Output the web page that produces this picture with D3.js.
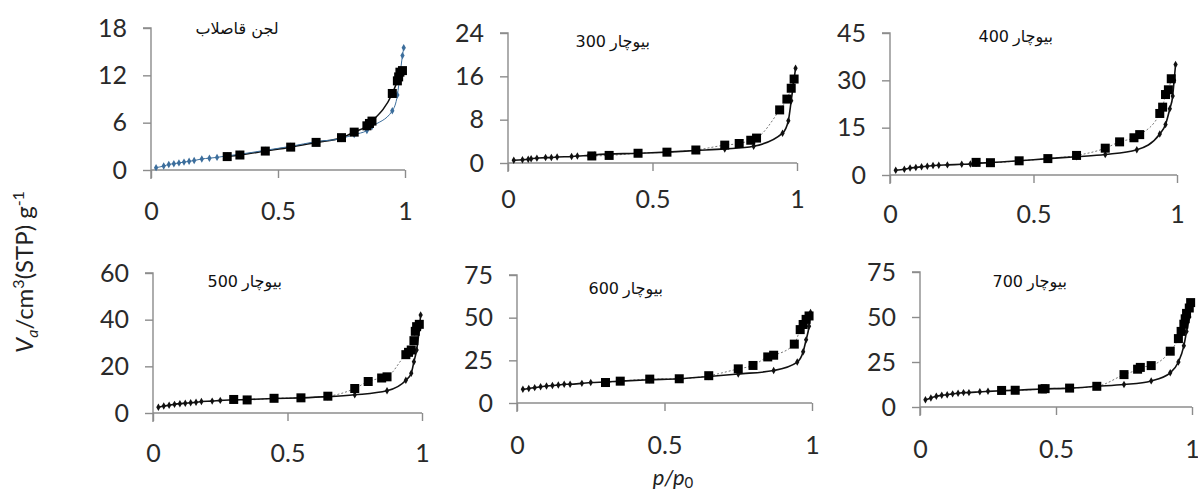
<!DOCTYPE html>
<html><head><meta charset="utf-8">
<script src="https://cdn.jsdelivr.net/npm/d3@7"></script>
<style>
body{margin:0;background:#fff;}
svg{font-family:"Lato","Open Sans",sans-serif;}
</style></head>
<body><svg id="c" width="1198" height="494"></svg>
<script>
// ---- data ----
const panelTitles = ["لجن قاصلاب","300 بیوچار","400 بیوچار","500 بیوچار","600 بیوچار","700 بیوچار"];
const yMax = [18,24,45,60,75,75];
const yTicks = [[0,6,12,18],[0,8,16,24],[0,15,30,45],[0,20,40,60],[0,25,50,75],[0,25,50,75]];
const xTicks = [0,0.5,1];

const ads1P = [0.02,0.05,0.07,0.09,0.11,0.13,0.15,0.17,0.20,0.23,0.26,0.30,0.35,0.45,0.55,0.65,0.75,0.80,0.85,0.87,0.95,0.97,0.98,0.99,0.995];
const ads1V = [0.3,0.5,0.7,0.8,0.9,1.0,1.1,1.2,1.4,1.5,1.6,1.8,2.0,2.5,3.0,3.6,4.0,4.5,5.0,5.5,7.5,9.5,12,14.5,15.5];
const des1P = [0.30,0.35,0.45,0.55,0.65,0.75,0.80,0.85,0.86,0.87,0.95,0.97,0.975,0.98,0.99];
const des1V = [1.7,1.9,2.4,2.9,3.5,4.1,4.8,5.6,5.9,6.2,9.7,11.3,11.8,12.4,12.6];

const ads2P = [0.02,0.05,0.07,0.08,0.10,0.13,0.15,0.17,0.22,0.24,0.28,0.30,0.45,0.55,0.65,0.75,0.85,0.95,0.97,0.98,0.99,0.995];
const ads2V = [0.5,0.6,0.7,0.8,0.9,1.0,1.0,1.1,1.2,1.3,1.4,1.5,1.8,2.0,2.3,2.6,3.1,5.5,7.8,11.5,15.5,17.5];
const des2P = [0.29,0.35,0.45,0.55,0.65,0.75,0.80,0.84,0.86,0.94,0.965,0.98,0.99];
const des2V = [1.3,1.4,1.8,2.0,2.4,3.3,3.6,4.2,4.6,9.8,11.8,13.8,15.5];

const ads3P = [0.02,0.05,0.07,0.09,0.11,0.13,0.15,0.17,0.20,0.25,0.28,0.30,0.35,0.45,0.55,0.65,0.75,0.86,0.94,0.96,0.975,0.985,0.99,0.995];
const ads3V = [1.5,1.8,2.2,2.4,2.6,2.8,3.0,3.1,3.2,3.4,3.5,3.7,3.9,4.5,5.2,5.8,6.5,8.0,13,16,21,25,30,35];
const des3P = [0.30,0.35,0.45,0.55,0.65,0.75,0.80,0.85,0.87,0.94,0.95,0.96,0.97,0.98];
const des3V = [4.0,3.9,4.5,5.2,6.2,8.5,10.5,11.8,12.8,19.5,21.5,25.5,27,30.5];

const ads4P = [0.02,0.04,0.06,0.08,0.10,0.12,0.14,0.16,0.18,0.22,0.25,0.30,0.35,0.45,0.55,0.65,0.75,0.87,0.94,0.96,0.97,0.98,0.99,0.995];
const ads4V = [2.5,3.0,3.3,3.7,4.0,4.2,4.4,4.6,4.9,5.1,5.4,5.6,5.8,6.2,6.5,7.0,7.8,9.5,14,17,22,27,36,42];
const des4P = [0.30,0.35,0.45,0.55,0.65,0.75,0.80,0.85,0.87,0.94,0.95,0.96,0.97,0.975,0.98,0.99];
const des4V = [5.8,5.6,6.3,6.5,7.2,10.5,13.5,15,15.5,25,26,27,31,35,37,38];

const ads5P = [0.02,0.04,0.06,0.08,0.10,0.12,0.14,0.16,0.18,0.22,0.25,0.30,0.35,0.45,0.55,0.65,0.75,0.87,0.95,0.97,0.98,0.99,0.995];
const ads5V = [8,8.5,9,9.5,10,10.2,10.5,11,11,11.5,12,12.3,12.8,13.6,14.2,15.5,17,19,24,30,37,45,53];
const des5P = [0.30,0.35,0.45,0.55,0.65,0.75,0.80,0.85,0.87,0.94,0.96,0.97,0.98,0.99];
const des5V = [12,12.8,14,14.2,16,20,22,27,28,34.5,43,46,49,51];

const ads6P = [0.02,0.04,0.06,0.08,0.10,0.12,0.14,0.16,0.18,0.22,0.25,0.30,0.35,0.45,0.55,0.65,0.75,0.85,0.92,0.95,0.97,0.98,0.99,0.995];
const ads6V = [4,5,6,6.5,6.8,7.3,7.6,8,8,8.5,8.7,9,9.3,10,10.5,11.5,12.5,14.5,19,25,34,42,50,57];
const des6P = [0.30,0.35,0.45,0.46,0.55,0.65,0.75,0.80,0.81,0.85,0.92,0.95,0.96,0.97,0.975,0.98,0.99,0.995];
const des6V = [9.2,9.3,10,10.2,10.5,11.5,18,21,22,23,31,38,42,46,49,52,55,58];

const adsP = [ads1P,ads2P,ads3P,ads4P,ads5P,ads6P];
const adsV = [ads1V,ads2V,ads3V,ads4V,ads5V,ads6V];
const desP = [des1P,des2P,des3P,des4P,des5P,des6P];
const desV = [des1V,des2V,des3V,des4V,des5V,des6V];

// ---- layout ----
const layout = [
  {x0:151,x1:405,y0:170,yT:28, lab:211, tx:237,ty:34},
  {x0:508,x1:797,y0:163,yT:33, lab:199, tx:620,ty:47},
  {x0:890,x1:1177,y0:175,yT:33, lab:214, tx:1023,ty:42},
  {x0:153,x1:422,y0:413,yT:273, lab:453, tx:252,ty:287},
  {x0:517,x1:812,y0:403,yT:275, lab:445, tx:633,ty:294},
  {x0:920,x1:1192,y0:407,yT:272, lab:449, tx:1037,ty:287}
];

const svg = d3.select("#c");
const axisCol = "#8c8c8c";
const tickFont = "25px";
const titleStyle = sel => sel.style("font-family","'DejaVu Sans', sans-serif")
  .style("font-size","16px").attr("fill","#111");

layout.forEach((L,i)=>{
  const x = d3.scaleLinear().domain([0,1]).range([L.x0,L.x1]);
  const y = d3.scaleLinear().domain([0,yMax[i]]).range([L.y0,L.yT]);
  const g = svg.append("g");

  // axes
  const ya = g.append("g").attr("transform",`translate(${L.x0},0)`)
    .call(d3.axisLeft(y).tickValues(yTicks[i]).tickSize(8).tickPadding(16));
  const xa = g.append("g").attr("transform",`translate(0,${L.y0})`)
    .call(d3.axisBottom(x).tickValues(xTicks).tickSize(8).tickPadding(L.lab-L.y0-17).tickFormat(d3.format("")));
  [ya,xa].forEach(a=>{
    a.select(".domain").attr("stroke",axisCol).attr("stroke-width",1.4);
    a.selectAll(".tick line").attr("stroke",axisCol).attr("stroke-width",1.4);
    a.selectAll("text").attr("fill","#2a2a2a").style("font-size",tickFont).style("font-family","Lato, 'Open Sans', sans-serif");
  });
  xa.select(".domain").attr("d",`M${L.x0},0H${L.x1}`);
  ya.select(".domain").attr("d",`M0,${L.y0+9}V${L.yT}H-8`);

  const ads = adsP[i].map((p,k)=>[p,adsV[i][k]]);
  const des = desP[i].map((p,k)=>[p,desV[i][k]]);
  const line = d3.line().x(d=>x(d[0])).y(d=>y(d[1])).curve(d3.curveMonotoneX);

  const adsCol = i===0 ? "#3c6e9c" : "#111";
  // desorption line
  g.append("path").datum(des).attr("d",line).attr("fill","none")
    .attr("stroke", i===0 ? "#111" : "#777").attr("stroke-width", i===0?1.6:1)
    .attr("stroke-dasharray", i===0 ? null : "2,2");
  // adsorption line
  g.append("path").datum(ads).attr("d",line).attr("fill","none")
    .attr("stroke",adsCol).attr("stroke-width", i===0?1:1.6);
  // adsorption markers
  g.selectAll(".a").data(ads).enter().append("path")
    .attr("d",d3.symbol(d3.symbolDiamond,16))
    .attr("transform",d=>`translate(${x(d[0])},${y(d[1])})`)
    .attr("fill",adsCol);
  // desorption markers (squares)
  g.selectAll(".d").data(des).enter().append("rect")
    .attr("x",d=>x(d[0])-4.5).attr("y",d=>y(d[1])-4.5)
    .attr("width",9).attr("height",9).attr("fill","#000");

  // title: number drawn on the left, Persian word on the right (as in the reference)
  const m = panelTitles[i].match(/^(\d+)\s+(.+)$/);
  if (m) {
    g.append("text").attr("x",L.tx-14).attr("y",L.ty).attr("text-anchor","end")
      .call(titleStyle).text(m[1]);
    g.append("text").attr("x",L.tx-10).attr("y",L.ty).attr("text-anchor","start")
      .call(titleStyle).text(m[2]);
  } else {
    g.append("text").attr("x",L.tx).attr("y",L.ty).attr("text-anchor","middle")
      .call(titleStyle).text(panelTitles[i]);
  }
});

// axis titles
const yl = svg.append("text").attr("transform","translate(33,272) rotate(-90)")
  .attr("text-anchor","middle").style("font-family","Lato, 'Open Sans', sans-serif")
  .style("font-size","24px").attr("fill","#222");
yl.append("tspan").style("font-style","italic").text("V");
yl.append("tspan").attr("dy",5).style("font-size","16px").style("font-style","italic").text("a");
yl.append("tspan").attr("dy",-5).text("/cm");
yl.append("tspan").attr("dy",-9).style("font-size","16px").text("3");
yl.append("tspan").attr("dy",9).text("(STP) g");
yl.append("tspan").attr("dy",-9).style("font-size","16px").text("-1");

const xl = svg.append("text").attr("x",673).attr("y",485).attr("text-anchor","middle")
  .style("font-family","Lato, 'Open Sans', sans-serif").style("font-size","22px")
  .style("font-style","italic").attr("fill","#222");
xl.append("tspan").text("p/p");
xl.append("tspan").attr("dy",3).style("font-size","15px").style("font-style","normal").text("0");
</script></body></html>
